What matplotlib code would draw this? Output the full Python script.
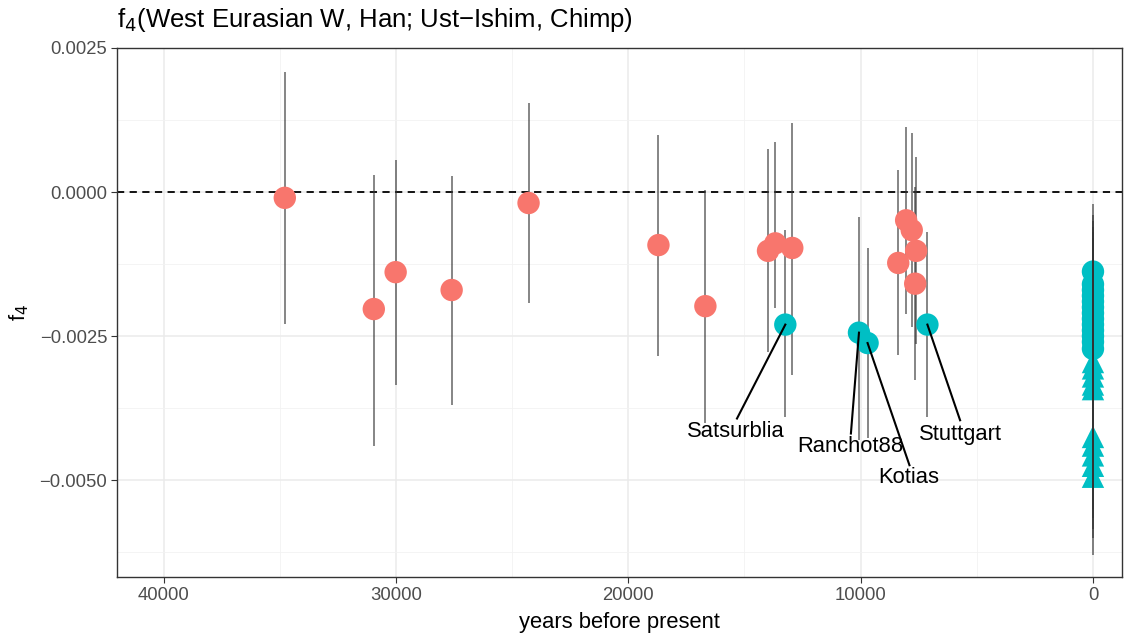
import matplotlib
matplotlib.use("Agg")
import matplotlib.pyplot as plt
import numpy as np

plt.rcParams['font.family'] = ['Liberation Sans', 'DejaVu Sans']

# Ancient samples not significantly different (red)
red_years = [34780, 30950, 30010, 27600, 24290, 18700, 16680, 13985, 13670, 12940,
             8380, 8040, 7800, 7610, 7650]
red_f4 = [-0.00010, -0.00203, -0.00139, -0.00170, -0.00019, -0.00092, -0.00198,
          -0.00102, -0.00089, -0.00097, -0.00123, -0.00049, -0.00066, -0.00102, -0.00159]
red_hi = [0.00208, 0.00030, 0.00056, 0.00028, 0.00155, 0.00099, 0.00003,
          0.00075, 0.00087, 0.00120, 0.00038, 0.00113, 0.00102, 0.00061, 0.00009]
red_lo = [-0.00229, -0.00440, -0.00335, -0.00370, -0.00193, -0.00285, -0.00400,
          -0.00278, -0.00201, -0.00318, -0.00283, -0.00212, -0.00234, -0.00264, -0.00326]

# Ancient samples (cyan), labelled
cyan_names = ["Satsurblia", "Ranchot88", "Kotias", "Stuttgart"]
cyan_years = [13240, 10070, 9700, 7125]
cyan_f4 = [-0.00230, -0.00244, -0.00262, -0.00230]
cyan_hi = [-0.00066, -0.00043, -0.00097, -0.00070]
cyan_lo = [-0.00390, -0.00430, -0.00427, -0.00390]

# Present-day populations (year 0)
mod_circ_f4 = [-0.00138, -0.00160, -0.00170, -0.00180, -0.00190, -0.00200, -0.00210,
               -0.00220, -0.00230, -0.00240, -0.00250, -0.00260, -0.00272]
mod_circ_hi = [-0.00020, -0.00040, -0.00050, -0.00060, -0.00070, -0.00080, -0.00090,
               -0.00100, -0.00110, -0.00120, -0.00130, -0.00140, -0.00150]
mod_circ_lo = [-0.00260, -0.00280, -0.00290, -0.00300, -0.00310, -0.00320, -0.00330,
               -0.00340, -0.00350, -0.00360, -0.00370, -0.00380, -0.00395]
mod_tri_f4 = [-0.00295, -0.00306, -0.00320, -0.00334, -0.00342,
              -0.00425, -0.00440, -0.00457, -0.00475, -0.00494]
mod_tri_hi = [-0.00170, -0.00180, -0.00195, -0.00210, -0.00215,
              -0.00300, -0.00315, -0.00330, -0.00350, -0.00365]
mod_tri_lo = [-0.00420, -0.00430, -0.00445, -0.00460, -0.00470,
              -0.00550, -0.00565, -0.00585, -0.00600, -0.00630]

RED = "#F8766D"
CYAN = "#00BFC4"

fig = plt.figure(figsize=(11.33, 6.34), dpi=100)
ax = fig.add_axes([0.1033, 0.0899, 0.9903 - 0.1033, 0.9243 - 0.0899])

ax.set_xlim(42000, -1250)
ax.set_ylim(-0.00668, 0.0025)

ax.set_xticks([40000, 30000, 20000, 10000, 0])
ax.set_xticks([35000, 25000, 15000, 5000], minor=True)
ax.set_yticks([0.0025, 0.0, -0.0025, -0.0050])
ax.set_yticklabels(["0.0025", "0.0000", "\u22120.0025", "\u22120.0050"])
ax.set_yticks([0.00125, -0.00125, -0.00375, -0.00625], minor=True)
ax.grid(which='major', color='#EBEBEB', lw=1.1, zorder=0)
ax.grid(which='minor', color='#F2F2F2', lw=0.6, zorder=0)
ax.set_axisbelow(True)
ax.tick_params(which='minor', length=0)
ax.tick_params(which='major', length=4, width=0.8, color='#333333',
               labelsize=13.3, labelcolor='#4D4D4D', pad=3)
for s in ax.spines.values():
    s.set_color('#333333')
    s.set_linewidth(1.0)

ax.axhline(0, color='black', ls=(0, (4, 3)), lw=1.3, zorder=2)

ebc = (0.2, 0.2, 0.2, 0.6)
ax.vlines(red_years, red_lo, red_hi, color=ebc, lw=1.4, zorder=3)
ax.vlines(cyan_years, cyan_lo, cyan_hi, color=ebc, lw=1.4, zorder=3)
ax.vlines([0] * len(mod_circ_f4), mod_circ_lo, mod_circ_hi, color=ebc, lw=1.4, zorder=5)
ax.vlines([0] * len(mod_tri_f4), mod_tri_lo, mod_tri_hi, color=ebc, lw=1.4, zorder=5)

ax.scatter(red_years, red_f4, s=260, color=RED, edgecolors='none', zorder=4)
ax.scatter(cyan_years, cyan_f4, s=260, color=CYAN, edgecolors='none', zorder=4)
ax.scatter([0] * len(mod_circ_f4), mod_circ_f4, s=260, color=CYAN, edgecolors='none', zorder=4)
ax.scatter([0] * len(mod_tri_f4), mod_tri_f4, s=260, marker='^', color=CYAN,
           edgecolors='none', zorder=4)

# labels (repel-style offsets in years / f4 units)
label_pos = [(15390, -0.00415), (10447, -0.00441), (7911, -0.00496), (5718, -0.00420)]
seg_end = [(15320, -0.00393), (10417, -0.00419), (7897, -0.00474), (5718, -0.00396)]
for name, x, y, (lx, ly), (sx, sy) in zip(cyan_names, cyan_years, cyan_f4, label_pos, seg_end):
    ax.plot([x, sx], [y, sy], color='black', lw=1.5, zorder=6)
    ax.text(lx, ly, name, ha='center', va='center', fontsize=15.8, color='black', zorder=7)

ax.set_xlabel("years before present", fontsize=15.8, labelpad=6)
ax.set_ylabel("f$_4$", fontsize=15.8, labelpad=6)
fig.text(0.1033, 0.968, "f$_4$(West Eurasian W, Han; Ust\u2212Ishim, Chimp)",
         fontsize=18.5, ha='left', va='center')

fig.savefig("out.png", dpi=100)
